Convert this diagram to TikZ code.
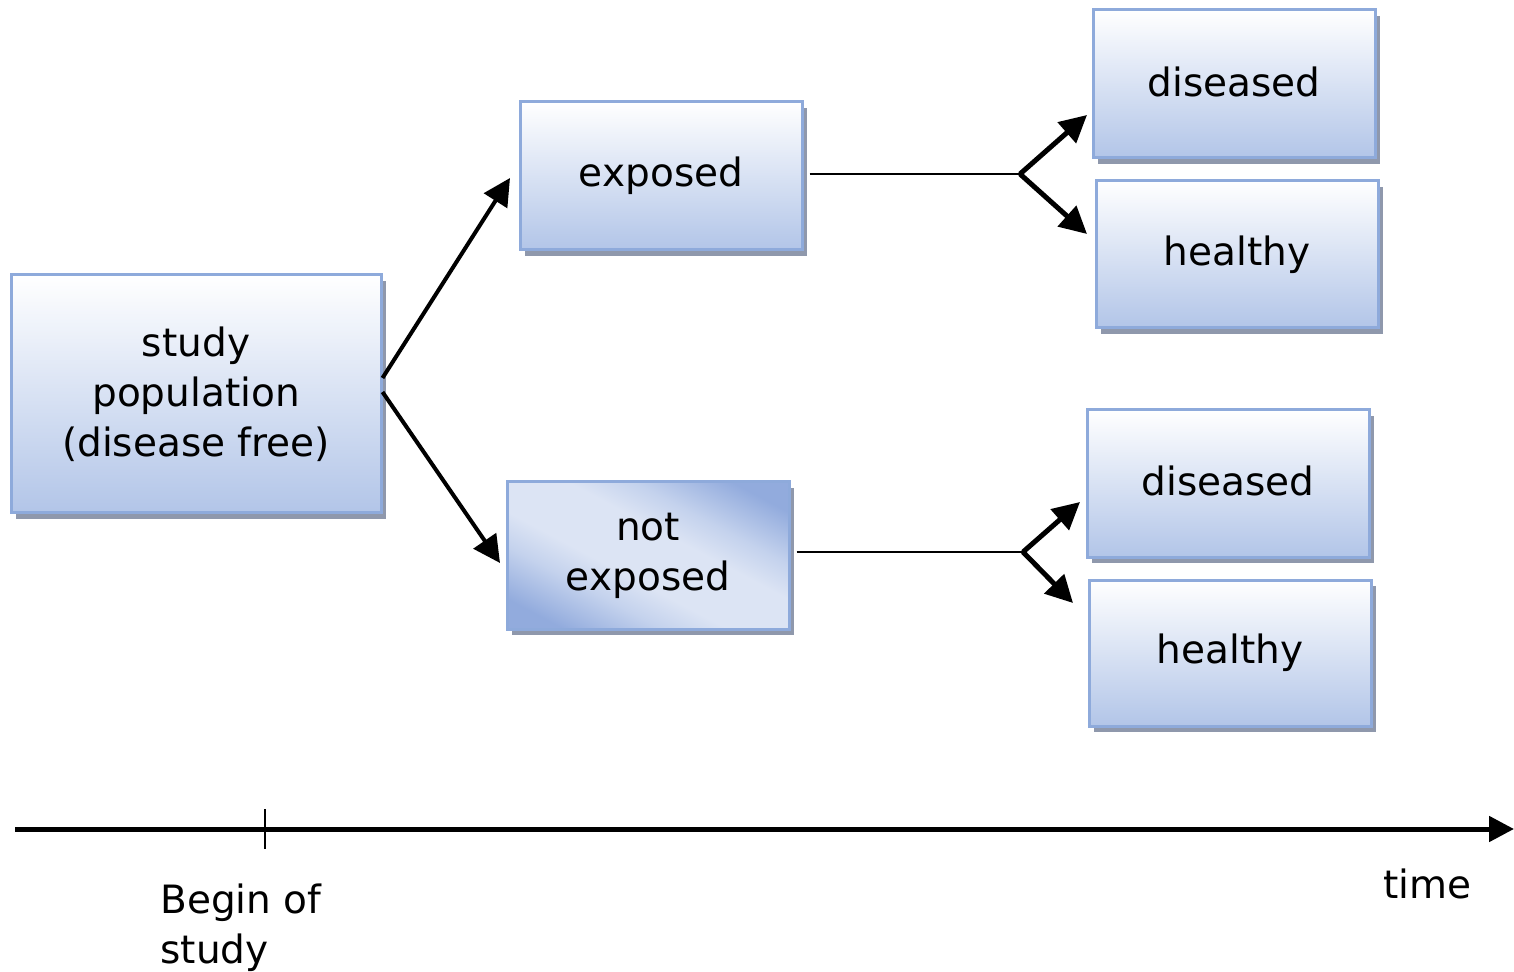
\documentclass[tikz,border=0pt]{standalone}
\usepackage{fontspec}
\setmainfont{DejaVu Sans}
\usetikzlibrary{arrows.meta,shadows}

\definecolor{boxborder}{HTML}{8EAADB}
\definecolor{boxbottom}{HTML}{B2C5E8}
\definecolor{shadowgray}{HTML}{8F98AC}
\definecolor{nbase}{HTML}{DCE4F4}
\definecolor{nmid}{HTML}{C4D2ED}
\definecolor{ndark}{HTML}{92ABDD}

% light band across the middle, darker towards two opposite corners
\pgfdeclarehorizontalshading{diagband}{100bp}{%
  color(0bp)=(ndark); color(23bp)=(ndark); color(35bp)=(nmid);
  color(43bp)=(nbase); color(57bp)=(nbase); color(65bp)=(nmid);
  color(77bp)=(ndark); color(100bp)=(ndark)}

\tikzset{
  box/.style={draw=boxborder, line width=1.5pt, inner sep=0pt,
    minimum width=141pt, minimum height=74pt, align=center,
    font=\fontsize{19.5}{25}\selectfont,
    drop shadow={shadow xshift=2.5pt, shadow yshift=-3pt, fill=shadowgray, opacity=1}},
  gradbox/.style={box, top color=white, bottom color=boxbottom},
  spotbox/.style={box, shading=diagband, shading angle=62},
  thickarrow/.style={line width=2pt, -{Triangle[length=13.5pt, width=13.5pt]}},
  fork/.style={line width=2.5pt, -{Triangle[length=13.5pt, width=13.5pt]}},
  thinline/.style={line width=1.2pt},
  label/.style={font=\fontsize{19.5}{25}\selectfont, inner sep=0pt}
}

\newcommand{\up}[1]{\raisebox{2.5pt}{#1}}

\begin{document}
\begin{tikzpicture}[x=0.5pt, y=-0.5pt]
  \useasboundingbox (0,0) rectangle (1514,972);

  % boxes
  \node[gradbox, minimum width=185pt, minimum height=119pt] (study) at (196,394)
    {study\\population\\(disease free)};
  \node[gradbox] (exposed) at (661,176) {exposed};
  \node[spotbox, minimum height=73.5pt] (notexp) at (648,555.5) {not\\exposed};
  \node[gradbox] (dis1) at (1234,84) {\up{diseased}};
  \node[gradbox, minimum height=73.5pt] (hea1) at (1237,254.5) {healthy};
  \node[gradbox, minimum height=73.5pt] (dis2) at (1228,483.5) {\up{diseased}};
  \node[gradbox, minimum height=73pt] (hea2) at (1230,653) {healthy};

  % branch points and arrow tips
  \coordinate (fork1) at (1020,174);
  \coordinate (fork2) at (1023,552);
  \coordinate (t1a) at (1087,115);
  \coordinate (t1b) at (1087,234);
  \coordinate (t2a) at (1080,502);
  \coordinate (t2b) at (1073,603);
  \coordinate (e1) at (510,178);
  \coordinate (e2) at (500,563);

  % from the study population to the two groups
  \draw[thickarrow] ([yshift=8pt]study.east) -- (e1);
  \draw[thickarrow] ([yshift=1pt]study.east) -- (e2);

  % follow-up of each group
  \draw[thinline] ([xshift=3pt,yshift=1pt]exposed.east) -- (fork1);
  \draw[fork] (fork1) -- (t1a);
  \draw[fork] (fork1) -- (t1b);
  \draw[thinline] ([xshift=3pt,yshift=1.75pt]notexp.east) -- (fork2);
  \draw[fork] (fork2) -- (t2a);
  \draw[fork] (fork2) -- (t2b);

  % time axis
  \coordinate (axstart) at (15,829);
  \coordinate (axend) at (1514,829);
  \coordinate (tick) at (265,829);
  \draw[line width=2.5pt, -{Triangle[length=12.5pt, width=12.5pt]}] (axstart) -- (axend);
  \draw[thinline] ([yshift=10pt]tick) -- ([yshift=-10pt]tick);

  \node[label, anchor=base west, align=left] (begin) at (160,963) {Begin of\\study};
  \node[label, anchor=base west] (time) at (1383,898) {time};
\end{tikzpicture}
\end{document}
